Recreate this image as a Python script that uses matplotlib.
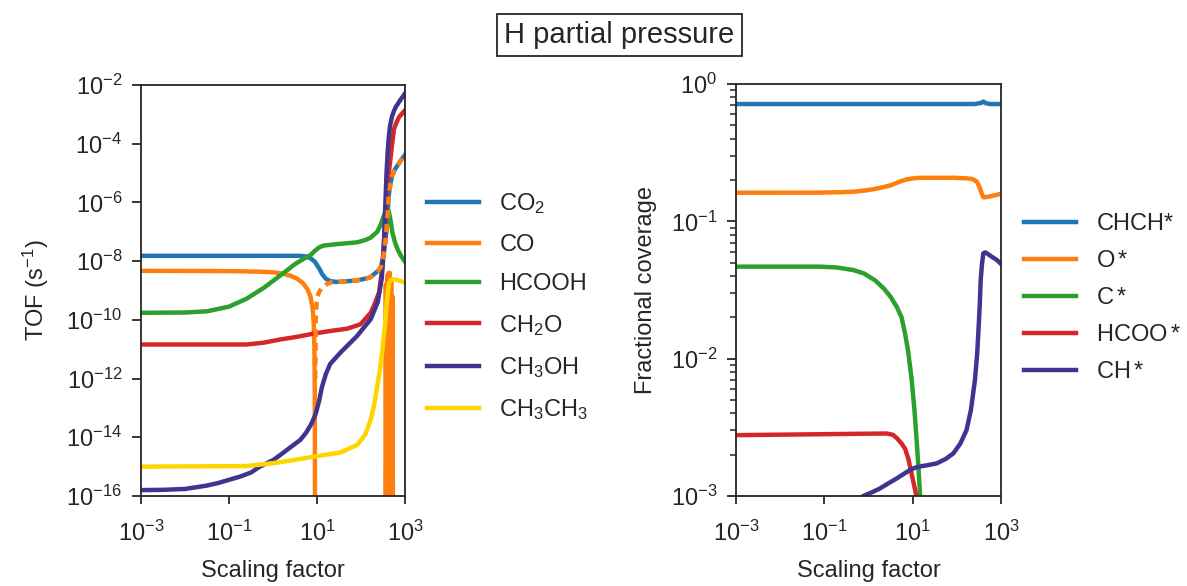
import numpy as np
import matplotlib
matplotlib.use("Agg")
import matplotlib.pyplot as plt
from matplotlib.ticker import LogLocator, NullLocator

# values are log10 of scaling factor / TOF / coverage
co2_lx = [-3, 0.6, 0.75, 0.85, 0.95, 1.05, 1.12, 1.2, 1.3, 1.45, 1.9, 2.2, 2.39, 2.45, 2.51, 2.56, 2.6, 2.63, 2.67, 2.71, 2.77, 2.83, 2.9, 3.0]
co2_ly = [-7.82, -7.82, -7.84, -7.9, -8.02, -8.25, -8.45, -8.6, -8.68, -8.71, -8.66, -8.56, -8.33, -8.2, -7.85, -7.25, -6.5, -5.77, -5.35, -5.08, -4.88, -4.74, -4.58, -4.38]

co_lx = [-3, -1, -0.3, 0.0, 0.2, 0.4, 0.55, 0.68, 0.78, 0.85, 0.9, 0.925, 0.94, 0.95, 0.955]
co_ly = [-8.33, -8.34, -8.36, -8.38, -8.42, -8.5, -8.6, -8.75, -8.95, -9.2, -9.6, -10.1, -10.9, -12.5, -18]
co_osc_lx = [2.55, 2.565, 2.58, 2.595, 2.61, 2.625, 2.64, 2.655, 2.67, 2.685, 2.70, 2.715, 2.73]
co_osc_ly = [-20, -8.8, -20, -8.5, -20, -8.4, -20, -8.4, -20, -8.6, -20, -9.2, -20]
co_neg_lx = [0.96, 0.975, 1.0, 1.05, 1.11, 1.2, 1.3, 1.45, 1.9, 2.2, 2.39, 2.45, 2.51, 2.56, 2.6, 2.63, 2.67, 2.71, 2.77, 2.83, 2.9, 3.0]
co_neg_ly = [-12.0, -9.8, -9.24, -9.05, -8.9, -8.8, -8.73, -8.71, -8.66, -8.56, -8.33, -8.2, -7.85, -7.25, -6.5, -5.77, -5.35, -5.08, -4.88, -4.74, -4.58, -4.38]

hcooh_lx = [-3, -2, -1.5, -1.0, -0.6, -0.2, 0.2, 0.5, 0.7, 0.85, 0.95, 1.05, 1.15, 1.46, 1.91, 2.1, 2.22, 2.37, 2.45, 2.52, 2.57, 2.6, 2.63, 2.67, 2.71, 2.77, 2.83, 2.9, 3.0]
hcooh_ly = [-9.76, -9.75, -9.71, -9.55, -9.28, -8.9, -8.45, -8.1, -7.92, -7.8, -7.65, -7.53, -7.47, -7.42, -7.36, -7.28, -7.2, -7.0, -6.75, -6.45, -6.28, -6.22, -6.3, -6.6, -7.0, -7.35, -7.59, -7.8, -8.02]

ch2o_lx = [-3, -0.6, -0.22, 0.16, 0.54, 0.92, 1.3, 1.69, 1.99, 2.22, 2.3, 2.41, 2.47, 2.52, 2.56, 2.6, 2.64, 2.7, 2.75, 2.8, 2.865, 2.93, 3.0]
ch2o_ly = [-10.84, -10.84, -10.78, -10.67, -10.58, -10.47, -10.38, -10.3, -10.15, -9.76, -9.5, -9.07, -8.4, -7.48, -6.4, -5.4, -4.9, -4.1, -3.5, -3.3, -3.09, -2.98, -2.86]

ch3oh_lx = [-3, -2.5, -2.0, -1.52, -1.25, -1.0, -0.75, -0.5, -0.3, 0.01, 0.15, 0.3, 0.45, 0.62, 0.75, 0.85, 0.9, 0.97, 1.05, 1.11, 1.2, 1.3, 1.53, 1.91, 2.22, 2.38, 2.47, 2.5, 2.53, 2.555, 2.58, 2.605, 2.63, 2.66, 2.7, 2.74, 2.79, 2.9, 3.0]
ch3oh_ly = [-15.8, -15.79, -15.76, -15.65, -15.56, -15.45, -15.34, -15.2, -15.0, -14.77, -14.62, -14.45, -14.28, -14.09, -13.85, -13.6, -13.45, -13.2, -12.75, -12.3, -11.85, -11.5, -11.12, -10.55, -9.98, -9.4, -8.6, -8.0, -7.0, -6.0, -5.0, -4.3, -3.8, -3.4, -3.1, -2.92, -2.75, -2.5, -2.29]

ch3ch3_lx = [-3, -0.6, 0.01, 0.5, 0.92, 1.53, 1.91, 2.0, 2.1, 2.22, 2.3, 2.37, 2.43, 2.48, 2.52, 2.56, 2.58, 2.6, 2.62, 2.64, 2.67, 2.7, 2.8, 3.0]
ch3ch3_ly = [-15.0, -14.98, -14.88, -14.77, -14.66, -14.52, -14.26, -14.1, -13.9, -13.4, -12.9, -12.26, -11.7, -11.12, -10.5, -9.98, -9.5, -9.2, -8.95, -8.75, -8.65, -8.62, -8.63, -8.73]

chch_lx = [-3, 2.4, 2.55, 2.6, 2.66, 2.75, 3.0]
chch_ly = [-0.146, -0.146, -0.138, -0.128, -0.14, -0.146, -0.146]
o_lx = [-3, -1.1, -0.6, -0.34, -0.1, 0.1, 0.3, 0.5, 0.71, 0.85, 1.02, 1.17, 1.92, 2.22, 2.35, 2.45, 2.51, 2.56, 2.6, 2.68, 2.83, 3.0]
o_ly = [-0.792, -0.791, -0.788, -0.784, -0.777, -0.767, -0.754, -0.738, -0.711, -0.696, -0.687, -0.683, -0.683, -0.687, -0.692, -0.71, -0.748, -0.794, -0.825, -0.823, -0.813, -0.799]
c_lx = [-3, -1.1, -0.72, -0.34, -0.1, 0.15, 0.35, 0.5, 0.64, 0.75, 0.83, 0.9, 0.98, 1.04, 1.09, 1.13, 1.17, 1.22]
c_ly = [-1.33, -1.33, -1.336, -1.355, -1.38, -1.43, -1.49, -1.55, -1.622, -1.70, -1.82, -1.95, -2.16, -2.37, -2.593, -2.785, -3.0, -3.6]
hcoo_lx = [-3, 0.41, 0.55, 0.64, 0.75, 0.83, 0.9, 0.94, 0.98, 1.02, 1.06, 1.1, 1.13]
hcoo_ly = [-2.557, -2.545, -2.554, -2.578, -2.618, -2.657, -2.726, -2.785, -2.844, -2.903, -2.962, -3.03, -3.3]
ch_lx = [-0.5, -0.12, 0.1, 0.26, 0.45, 0.64, 0.8, 0.94, 1.05, 1.17, 1.35, 1.54, 1.75, 1.92, 2.08, 2.22, 2.32, 2.41, 2.46, 2.49, 2.52, 2.54, 2.57, 2.6, 2.64, 2.68, 2.8, 2.9, 3.0]
ch_ly = [-3.1, -3.0, -2.97, -2.945, -2.908, -2.872, -2.839, -2.811, -2.795, -2.785, -2.775, -2.763, -2.73, -2.69, -2.618, -2.52, -2.372, -2.156, -1.969, -1.792, -1.605, -1.428, -1.31, -1.233, -1.226, -1.233, -1.26, -1.28, -1.31]

BLUE, ORANGE, GREEN, RED, PURPLE, YELLOW = "#1f77b4", "#ff7f0e", "#2ca02c", "#d62728", "#3f3590", "#ffd500"
DARK = "#262626"

plt.rcParams.update({
    "font.family": ["Liberation Sans", "DejaVu Sans"],
    "mathtext.fontset": "custom",
    "mathtext.rm": "Liberation Sans",
    "mathtext.it": "Liberation Sans:italic",
    "mathtext.default": "regular",
    "text.color": DARK, "axes.labelcolor": DARK,
    "xtick.color": DARK, "ytick.color": DARK,
    "axes.edgecolor": DARK, "axes.linewidth": 1.3,
    "xtick.major.width": 1.3, "ytick.major.width": 1.3,
    "xtick.minor.width": 1.1, "ytick.minor.width": 1.1,
    "xtick.major.size": 6, "ytick.major.size": 6.5,
    "ytick.minor.size": 4,
    "xtick.major.pad": 12, "ytick.major.pad": 7,
})

def p(v):
    return 10.0 ** np.array(v)

fig = plt.figure(figsize=(11.87, 5.86), dpi=100)
ax1 = fig.add_axes([0.1188, 0.1536, 0.2224, 0.7014])
ax2 = fig.add_axes([0.620, 0.1536, 0.2233, 0.7031])

lw = 3.2
ax1.plot(p(co2_lx), p(co2_ly), color=BLUE, lw=lw, label="CO$_2$")
ax1.plot(p(co_lx), p(co_ly), color=ORANGE, lw=lw, label="CO")
ax1.plot(p(co_osc_lx), p(co_osc_ly), color=ORANGE, lw=lw)
ax1.plot(p(hcooh_lx), p(hcooh_ly), color=GREEN, lw=lw, label="HCOOH")
ax1.plot(p(ch2o_lx), p(ch2o_ly), color=RED, lw=lw, label="CH$_2$O")
ax1.plot(p(ch3oh_lx), p(ch3oh_ly), color=PURPLE, lw=lw, label="CH$_3$OH")
ax1.plot(p(ch3ch3_lx), p(ch3ch3_ly), color=YELLOW, lw=lw, label="CH$_3$CH$_3$")
ax1.plot(p(co_neg_lx), p(co_neg_ly), color=ORANGE, lw=lw, ls=(0, (1.8, 1.3)))

ax1.set_xscale("log")
ax1.set_yscale("log")
ax1.set_xlim(1e-3, 1e3)
ax1.set_ylim(1e-16, 1e-2)
ax1.set_xticks([1e-3, 1e-1, 1e1, 1e3])
ax1.set_yticks([10.0 ** e for e in range(-16, -1, 2)])
ax1.xaxis.set_minor_locator(NullLocator())
ax1.yaxis.set_minor_locator(NullLocator())
ax1.set_xlabel("Scaling factor", fontsize=17, labelpad=10)
ax1.set_ylabel("TOF (s$^{-1}$)", fontsize=17, labelpad=11)
ax1.legend(loc="center left", bbox_to_anchor=(1.004, 0.46), frameon=False,
           fontsize=17, handlelength=2.2, labelspacing=0.74, handletextpad=0.85)

ax2.plot(p(chch_lx), p(chch_ly), color=BLUE, lw=lw, label="CHCH*")
ax2.plot(p(o_lx), p(o_ly), color=ORANGE, lw=lw, label=r"O$\,$*")
ax2.plot(p(c_lx), p(c_ly), color=GREEN, lw=lw, label=r"C$\,$*")
ax2.plot(p(hcoo_lx), p(hcoo_ly), color=RED, lw=lw, label=r"HCOO$\,$*")
ax2.plot(p(ch_lx), p(ch_ly), color=PURPLE, lw=lw, label=r"CH$\,$*")
ax2.set_xscale("log")
ax2.set_yscale("log")
ax2.set_xlim(1e-3, 1e3)
ax2.set_ylim(1e-3, 1.0)
ax2.set_xticks([1e-3, 1e-1, 1e1, 1e3])
ax2.xaxis.set_minor_locator(NullLocator())
ax2.yaxis.set_minor_locator(LogLocator(base=10, subs=np.arange(2, 10), numticks=20))
ax2.set_xlabel("Scaling factor", fontsize=17, labelpad=10)
ax2.set_ylabel("Fractional coverage", fontsize=17, labelpad=10)
ax2.legend(loc="center left", bbox_to_anchor=(1.008, 0.48), frameon=False,
           fontsize=17, handlelength=2.2, labelspacing=0.63, handletextpad=0.85)

for ax in (ax1, ax2):
    ax.tick_params(labelsize=17)

fig.text(0.522, 0.94, "H partial pressure", ha="center", va="center", fontsize=21,
         bbox=dict(boxstyle="square,pad=0.25", fc="white", ec=DARK, lw=1.3))

fig.savefig("out.png", dpi=100)
